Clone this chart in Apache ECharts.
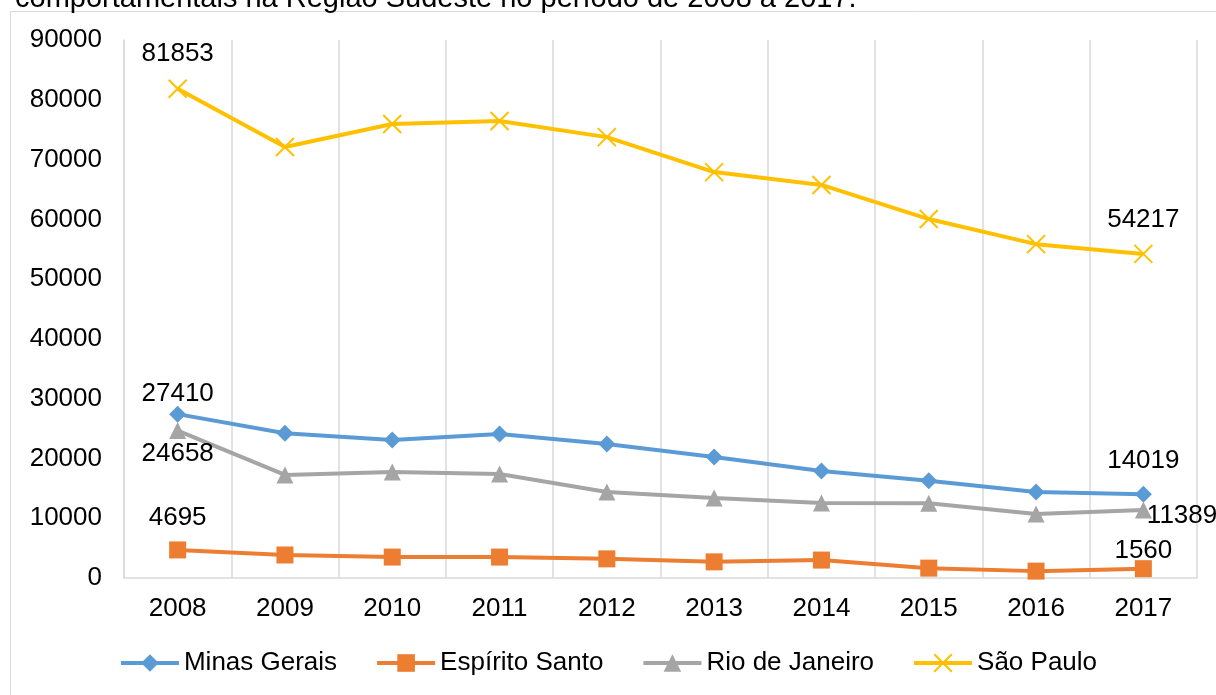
<!DOCTYPE html>
<html>
<head>
<meta charset="utf-8">
<script src="https://cdn.jsdelivr.net/npm/echarts@6/dist/echarts.min.js"></script>
<style>
  html, body { margin: 0; padding: 0; background: #fff; }
  #chart { width: 1216px; height: 695px; }
</style>
</head>
<body>
<div id="chart"></div>
<script>
// anos
var years = ['2008', '2009', '2010', '2011', '2012', '2013', '2014', '2015', '2016', '2017']
var yTicks = [0, 10000, 20000, 30000, 40000, 50000, 60000, 70000, 80000, 90000]

// valores por estado
var minasGerais = [27410, 24200, 23100, 24100, 22400, 20250, 17900, 16250, 14400, 14019]
var espiritoSanto = [4695, 3850, 3500, 3500, 3200, 2700, 3000, 1650, 1150, 1560]
var rioDeJaneiro = [24658, 17250, 17750, 17400, 14400, 13400, 12550, 12500, 10700, 11389]
var saoPaulo = [81853, 72100, 75950, 76450, 73750, 67900, 65750, 60050, 55850, 54217]

var chart = echarts.init(document.getElementById('chart'))

var labelFont = { fontFamily: 'Liberation Sans, Arial, sans-serif', fontSize: 26, color: '#000' }

// only first and last point get a label
function withEndLabels(values, first, last) {
  return values.map(function(v, i) {
    if (i === 0) return { value: v, label: Object.assign({ show: true }, labelFont, first) }
    if (i === values.length - 1) return { value: v, label: Object.assign({ show: true }, labelFont, last) }
    return v
  })
}

function lineSeries(name, color, symbol, data) {
  return {
    name: name,
    type: 'line',
    data: data,
    symbol: symbol,
    symbolSize: 17,
    showAllSymbol: true,
    lineStyle: { color: color, width: 4 },
    itemStyle: { color: color },
    label: { show: false },
    animation: false
  }
}

var xMark = 'path://M0,0L10,10M10,0L0,10'

var sp = lineSeries('São Paulo', '#FFC000', xMark,
  withEndLabels(saoPaulo, { position: 'top', distance: 12 }, { position: 'top', distance: 11 }))
sp.itemStyle = { color: '#FFC000', borderColor: '#FFC000', borderWidth: 2 }
sp.symbolSize = 18

chart.setOption({
  title: {
    text: 'comportamentais na Região Sudeste no período de 2008 a 2017.',
    left: 10,
    top: -21,
    textStyle: { fontFamily: 'Liberation Sans, Arial, sans-serif', fontSize: 29, fontWeight: 'normal', color: '#000' }
  },
  graphic: [{
    type: 'rect',
    shape: { x: 10.5, y: 11.5, width: 1230, height: 700 },
    style: { fill: 'none', stroke: '#d9d9d9', lineWidth: 1 },
    silent: true,
    z: -1
  }],
  grid: { left: 124, right: 19, top: 40, bottom: 117 },
  legend: {
    bottom: 14,
    left: 'center',
    itemWidth: 58,
    itemHeight: 22,
    itemGap: 38,
    lineStyle: { width: 4 },
    textStyle: { fontFamily: 'Liberation Sans, Arial, sans-serif', fontSize: 26, color: '#000' },
    data: ['Minas Gerais', 'Espírito Santo', 'Rio de Janeiro', 'São Paulo']
  },
  xAxis: {
    type: 'category',
    data: years,
    boundaryGap: true,
    axisTick: { show: false },
    axisLine: { lineStyle: { color: '#d9d9d9', width: 1.5 } },
    splitLine: { show: true, lineStyle: { color: '#d9d9d9', width: 1.5 } },
    axisLabel: Object.assign({ margin: 18 }, labelFont)
  },
  yAxis: {
    type: 'value',
    min: yTicks[0],
    max: yTicks[yTicks.length - 1],
    interval: yTicks[1] - yTicks[0],
    axisLine: { show: true, lineStyle: { color: '#d9d9d9', width: 1.5 } },
    axisTick: { show: false },
    splitLine: { show: false },
    axisLabel: Object.assign({ margin: 22, formatter: function(v) { return String(v) } }, labelFont)
  },
  series: [
    lineSeries('Minas Gerais', '#5B9BD5', 'diamond',
      withEndLabels(minasGerais, { position: 'top', distance: -1 }, { position: 'top', distance: 12 })),
    lineSeries('Espírito Santo', '#ED7D31', 'rect',
      withEndLabels(espiritoSanto, { position: 'top', distance: 11 }, { position: 'top', distance: -4 })),
    lineSeries('Rio de Janeiro', '#A5A5A5', 'triangle',
      withEndLabels(rioDeJaneiro, { position: 'bottom', distance: 2 }, { position: 'right', distance: -5, offset: [0, 6] })),
    sp
  ]
})
</script>
</body>
</html>
